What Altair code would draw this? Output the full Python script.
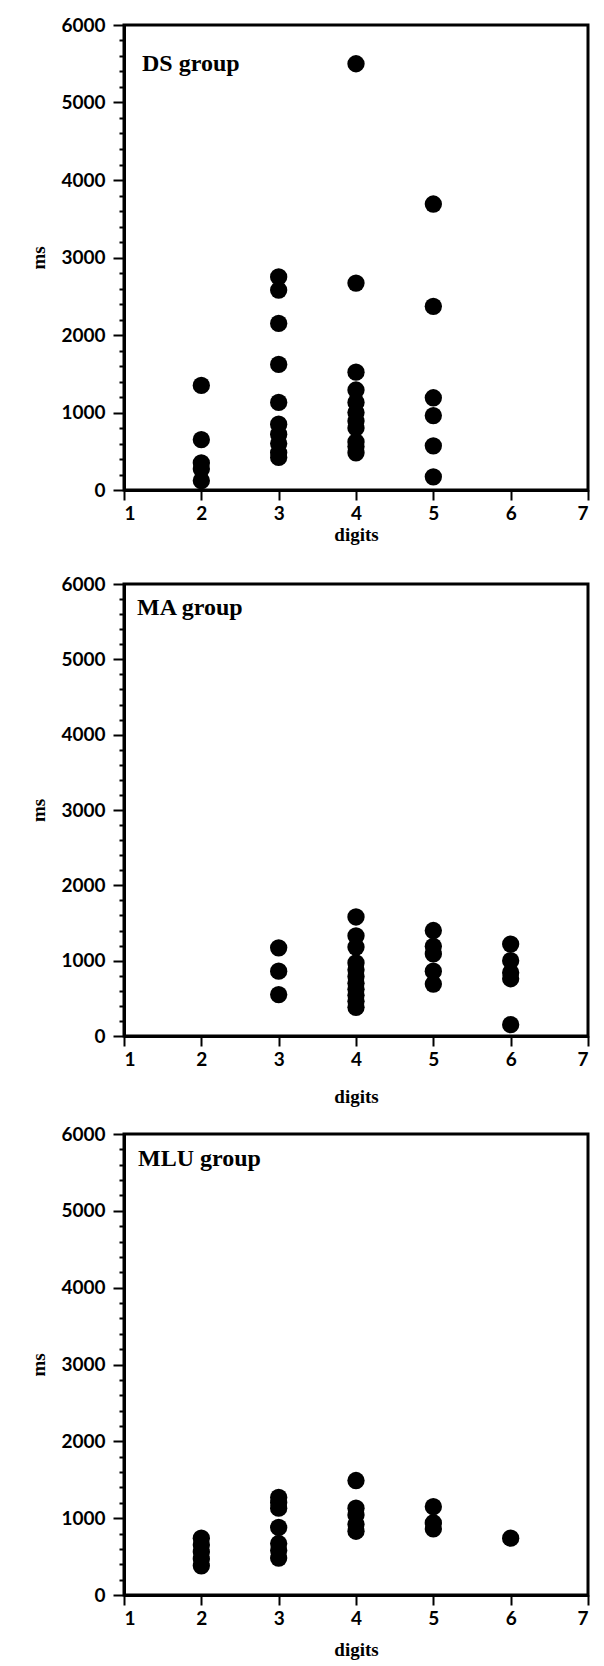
import altair as alt
import pandas as pd

# ---- data ----
ds_group = {
    2: [1350, 650, 350, 270, 120],
    3: [2750, 2580, 2150, 1620, 1130, 850, 720, 600, 480, 420],
    4: [5500, 2670, 1520, 1290, 1130, 1000, 890, 800, 620, 560, 480],
    5: [3690, 2370, 1190, 960, 570, 170],
}
ma_group = {
    3: [1170, 860, 550],
    4: [1580, 1330, 1180, 970, 880, 790, 700, 620, 540, 460, 380],
    5: [1400, 1190, 1090, 860, 690],
    6: [1220, 1000, 840, 760, 150],
}
mlu_group = {
    2: [740, 650, 560, 470, 380],
    3: [1270, 1200, 1130, 880, 670, 580, 480],
    4: [1490, 1130, 1040, 920, 830],
    5: [1150, 940, 860],
    6: [740],
}
x_ticks = [1, 2, 3, 4, 5, 6, 7]
y_ticks = list(range(0, 6001, 200))
panel_labels = ["DS group", "MA group", "MLU group"]

LABEL_FONT = "Lato"
TITLE_FONT = "Liberation Serif"


def to_df(group):
    rows = []
    for d, vals in group.items():
        for v in vals:
            rows.append({"digits": d, "ms": v})
    return pd.DataFrame(rows)


def panel(group, label, h, x_title_pad, lx, ly):
    df = to_df(group)
    pts = alt.Chart(df).mark_circle(size=300, color="black", opacity=1).encode(
        x=alt.X(
            "digits:Q",
            scale=alt.Scale(domain=[1, 7], nice=False, zero=False),
            axis=alt.Axis(
                values=x_ticks, format="d", title="digits",
                tickSize=10, labelPadding=4, titlePadding=x_title_pad,
            ),
        ),
        y=alt.Y(
            "ms:Q",
            scale=alt.Scale(domain=[0, 6000], nice=False),
            axis=alt.Axis(
                values=y_ticks,
                labelExpr="datum.value % 1000 === 0 ? datum.label : ''",
                format="d",
                title="ms",
                tickSize={"condition": {"test": "datum.value % 1000 === 0", "value": 11}, "value": 5},
                labelPadding=8,
                titlePadding=12,
            ),
        ),
    )
    txt = alt.Chart(pd.DataFrame({"t": [label]})).mark_text(
        align="left", baseline="middle", font=TITLE_FONT, fontSize=24,
        fontWeight="bold", color="black",
    ).encode(x=alt.value(lx), y=alt.value(ly), text="t:N")
    return alt.layer(pts, txt).properties(width=464, height=h)


p1 = panel(ds_group, panel_labels[0], 465, 2, 18, 39)
p2 = panel(ma_group, panel_labels[1], 452, 18, 13, 24)
p3 = panel(mlu_group, panel_labels[2], 461, 12, 14, 25)

inner = alt.vconcat(p1, p2, spacing=27)
chart = alt.vconcat(inner, p3, spacing=15).properties(
    padding={"left": 20, "top": 6, "right": 5, "bottom": 0}
).configure(
    background="white"
).configure_view(
    stroke="black", strokeWidth=3
).configure_axis(
    grid=False,
    domainColor="black", domainWidth=3,
    tickColor="black", tickWidth=2,
    labelFont=LABEL_FONT, labelFontSize=19, labelFontWeight="bold", labelColor="black",
    titleFont=TITLE_FONT, titleFontSize=19, titleFontWeight="bold", titleColor="black",
)

chart.save("out.html", embed_options={"renderer": "svg", "actions": False})
